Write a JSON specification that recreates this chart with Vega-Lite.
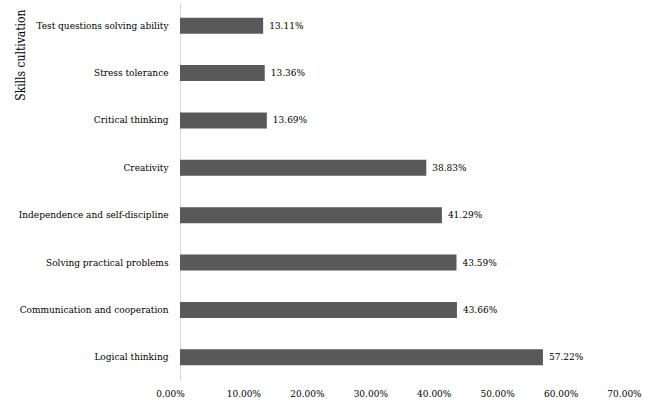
{
  "$schema": "https://vega.github.io/schema/vega-lite/v6.json",
  "width": 444,
  "height": 379,
  "autosize": {"type": "none"},
  "padding": {"left": 180, "top": 2, "right": 27, "bottom": 19},
  "background": "white",
  "config": {
    "view": {"stroke": null},
    "font": "DejaVu Serif Condensed, DejaVu Serif",
    "text": {"font": "DejaVu Serif Condensed, DejaVu Serif"},
    "axis": {"labelFont": "DejaVu Serif Condensed, DejaVu Serif", "titleFont": "DejaVu Serif Condensed, DejaVu Serif", "labelColor": "#000000", "titleColor": "#000000"}
  },
  "data": {
    "values": [
      {"skill": "Test questions solving ability", "pct": 0.1311},
      {"skill": "Stress tolerance", "pct": 0.1336},
      {"skill": "Critical thinking", "pct": 0.1369},
      {"skill": "Creativity", "pct": 0.3883},
      {"skill": "Independence and self-discipline", "pct": 0.4129},
      {"skill": "Solving practical problems", "pct": 0.4359},
      {"skill": "Communication and cooperation", "pct": 0.4366},
      {"skill": "Logical thinking", "pct": 0.5722}
    ]
  },
  "encoding": {
    "y": {
      "field": "skill",
      "type": "nominal",
      "sort": null,
      "scale": {"paddingInner": 0.66, "paddingOuter": 0.33},
      "axis": {
        "title": "Skills cultivation",
        "titleFontSize": 12,
        "titleFontWeight": "normal",
        "titleAngle": 270,
        "titleX": -160,
        "titleY": 7,
        "titleAlign": "right",
        "titleBaseline": "middle",
        "labelFontSize": 10,
        "labelLimit": 200,
        "labelPadding": 12,
        "ticks": false,
        "domainColor": "#d9d9d9",
        "domainWidth": 1
      }
    },
    "x": {
      "field": "pct",
      "type": "quantitative",
      "scale": {"domain": [0, 0.7], "nice": false},
      "axis": {
        "title": null,
        "format": ".2%",
        "values": [0, 0.1, 0.2, 0.3, 0.4, 0.5, 0.6, 0.7],
        "labelFontSize": 10,
        "labelPadding": 7,
        "labelFlush": false,
        "labelOffset": {"condition": {"test": "datum.value == 0", "value": -10}, "value": 0},
        "grid": false,
        "ticks": false,
        "domain": false
      }
    }
  },
  "layer": [
    {"mark": {"type": "bar", "color": "#595959"}},
    {
      "mark": {"type": "text", "align": "left", "baseline": "middle", "dx": 6, "fontSize": 10, "color": "#000000"},
      "encoding": {"text": {"field": "pct", "type": "quantitative", "format": ".2%"}}
    }
  ]
}
